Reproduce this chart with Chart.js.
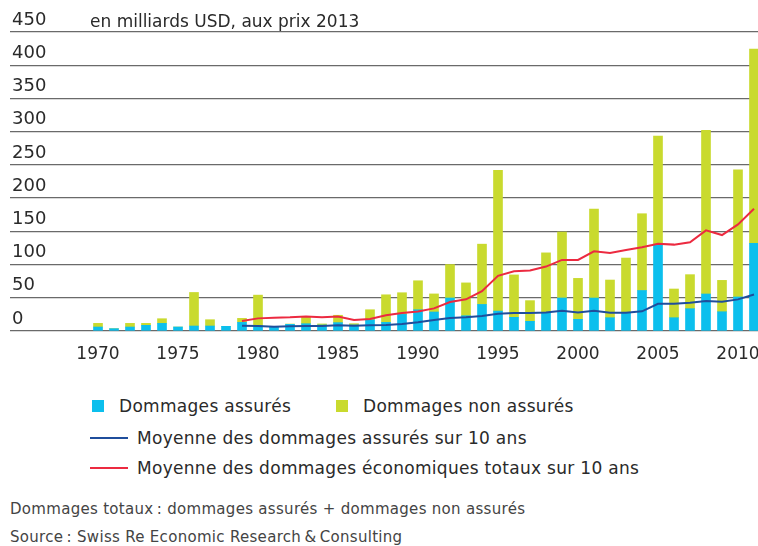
<!DOCTYPE html>
<html lang="fr">
<head>
<meta charset="utf-8">
<title>Dommages assurés et non assurés</title>
<script src="https://cdn.jsdelivr.net/npm/chart.js@4.4.1/dist/chart.umd.min.js"></script>
<style>
  html, body { margin: 0; padding: 0; background: #fff; overflow: hidden; }
  body { width: 758px; height: 546px; position: relative; font-family: "DejaVu Sans", sans-serif; color: #2a2a2a; }
  #wrap { position: absolute; left: 0; top: 0; width: 758px; height: 372px; }
  .unit { position: absolute; left: 90px; top: 11px; font-size: 17px; line-height: 20px; white-space: nowrap; }
  .item { position: absolute; font-size: 17px; line-height: 20px; letter-spacing: 0.3px; white-space: nowrap; }
  .sq { position: absolute; width: 12px; height: 12px; }
  .ln { position: absolute; width: 38px; height: 2px; }
  .note { position: absolute; left: 10px; font-size: 15px; line-height: 18px; letter-spacing: 0.3px; color: #444; white-space: nowrap; }
</style>
</head>
<body>
<div id="wrap"><canvas id="chart"></canvas></div>
<div class="unit">en milliards USD, aux prix 2013</div>
<div id="legend"></div>
<div class="note" style="top:500px">Dommages totaux&#8201;: dommages assurés + dommages non assurés</div>
<div class="note" style="top:528px">Source&#8201;: Swiss Re Economic Research&#8201;&amp;&#8201;Consulting</div>
<script>
// years shown as bars
const years = [1970, 1971, 1972, 1973, 1974, 1975, 1976, 1977, 1978, 1979,
  1980, 1981, 1982, 1983, 1984, 1985, 1986, 1987, 1988, 1989,
  1990, 1991, 1992, 1993, 1994, 1995, 1996, 1997, 1998, 1999,
  2000, 2001, 2002, 2003, 2004, 2005, 2006, 2007, 2008, 2009,
  2010, 2011];

// insured losses, bn USD (2013 prices)
const insured = [6, 3.5, 6, 8.5, 11.5, 6, 7.5, 7.5, 7, 13,
  8, 6, 10, 11, 9, 12.6, 9, 16.7, 13, 25,
  32, 28.6, 49.7, 23, 40, 30, 20.6, 14.6, 27, 49.7,
  17.6, 49.6, 20, 27.6, 61, 129.4, 20, 33.6, 55.7, 29,
  51.2, 131.9];

// uninsured losses, bn USD (2013 prices)
const uninsured = [5.5, 0, 5.5, 3, 7, 0, 50.5, 9.5, 0, 6,
  46, 0, 0.5, 9.5, 1.6, 11.1, 2, 15.3, 41.5, 32.6,
  43.6, 27.2, 50.3, 49.4, 90.7, 211.7, 63.8, 31.1, 90.6, 99.3,
  61.6, 133.9, 56.7, 82.2, 115.5, 164, 43.2, 51.2, 246.2, 47.2,
  191.5, 292.4];

// 10-year averages start in 1979
const avgYears = [1979,
  1980, 1981, 1982, 1983, 1984, 1985, 1986, 1987, 1988, 1989,
  1990, 1991, 1992, 1993, 1994, 1995, 1996, 1997, 1998, 1999,
  2000, 2001, 2002, 2003, 2004, 2005, 2006, 2007, 2008, 2009,
  2010, 2011];

const avgInsured = [8,
  7.5, 6.5, 7, 7.6, 7.6, 8.6, 8, 8.6, 9, 10.6,
  13, 16.6, 19.6, 20.6, 22.6, 26, 27, 27, 28, 30.6,
  28, 30.6, 27.6, 27.6, 29.6, 41, 41, 42.6, 45, 44,
  47.6, 55];

const avgTotal = [15,
  19, 20, 20.7, 22, 20.7, 21.7, 16.7, 18, 23.7, 27,
  29.5, 34, 43.7, 47.7, 60, 83, 90, 91, 97, 107,
  107, 120, 117.4, 122, 126, 131.4, 130, 133.4, 151.5, 144.4,
  160.5, 184];

const xTicks = ['1970', '1975', '1980', '1985', '1990', '1995', '2000', '2005', '2010'];

const FONT = '"DejaVu Sans", sans-serif';

function pts(xs, ys) {
  return xs.map((x, i) => ({ x: x, y: ys[i] }));
}

const chart = new Chart(document.getElementById('chart'), {
  type: 'bar',
  data: {
    datasets: [
      {
        type: 'line',
        label: 'Moyenne des dommages assurés sur 10 ans',
        data: pts(avgYears, avgInsured),
        borderColor: '#1f4e9c',
        borderWidth: 2,
        pointRadius: 0,
        tension: 0,
        stack: 'avg1',
        order: 0
      },
      {
        type: 'line',
        label: 'Moyenne des dommages économiques totaux sur 10 ans',
        data: pts(avgYears, avgTotal),
        borderColor: '#ec2a40',
        borderWidth: 2,
        pointRadius: 0,
        tension: 0,
        stack: 'avg2',
        order: 0
      },
      {
        label: 'Dommages assurés',
        data: pts(years, insured),
        backgroundColor: '#0cbfed',
        barThickness: 9,
        stack: 'dmg',
        order: 1
      },
      {
        label: 'Dommages non assurés',
        data: pts(years, uninsured),
        backgroundColor: '#c9da2e',
        barThickness: 9,
        stack: 'dmg',
        order: 1
      }
    ]
  },
  options: {
    responsive: true,
    maintainAspectRatio: false,
    animation: false,
    events: [],
    layout: { padding: { left: 10, right: 0, top: 32, bottom: 7 } },
    plugins: {
      legend: { display: false },
      tooltip: { enabled: false }
    },
    scales: {
      x: {
        type: 'linear',
        offset: false,
        min: 1964.5,
        max: 2011.25,
        grid: { display: false, drawTicks: false },
        border: { display: false },
        ticks: {
          stepSize: 5,
          includeBounds: false,
          autoSkip: false,
          maxRotation: 0,
          padding: 13,
          color: '#2a2a2a',
          font: { family: FONT, size: 17 },
          callback: (v) => xTicks.includes(String(v)) ? String(v) : ''
        },
        afterFit: (s) => { s.paddingLeft = 0; s.paddingRight = 0; s.height = 34; }
      },
      y: {
        stacked: true,
        min: 0,
        max: 450,
        grid: { color: '#6a6a6a', lineWidth: 1.3, drawTicks: false },
        border: { display: false },
        ticks: {
          stepSize: 50,
          mirror: true,
          padding: 2,
          labelOffset: -12,
          color: '#2a2a2a',
          font: { family: FONT, size: 18 }
        },
        afterFit: (s) => { s.width = 0; }
      }
    }
  }
});

// HTML legend built from the chart's datasets
const legendPos = {
  'Dommages assurés': { x: 92, y: 396, kind: 'sq' },
  'Dommages non assurés': { x: 336, y: 396, kind: 'sq' },
  'Moyenne des dommages assurés sur 10 ans': { x: 90, y: 428, kind: 'ln' },
  'Moyenne des dommages économiques totaux sur 10 ans': { x: 90, y: 458, kind: 'ln' }
};
const legendEl = document.getElementById('legend');
chart.data.datasets.forEach((ds) => {
  const p = legendPos[ds.label];
  const item = document.createElement('div');
  item.className = 'item';
  item.style.left = p.x + 'px';
  item.style.top = p.y + 'px';
  const sw = document.createElement('span');
  sw.className = p.kind;
  if (p.kind === 'sq') {
    sw.style.left = '0px'; sw.style.top = '4px';
    sw.style.background = ds.backgroundColor;
  } else {
    sw.style.left = '0px'; sw.style.top = '9px';
    sw.style.background = ds.borderColor;
  }
  const txt = document.createElement('span');
  txt.textContent = ds.label;
  txt.style.marginLeft = (p.kind === 'sq' ? 27 : 47) + 'px';
  item.appendChild(sw);
  item.appendChild(txt);
  legendEl.appendChild(item);
});
</script>
</body>
</html>
